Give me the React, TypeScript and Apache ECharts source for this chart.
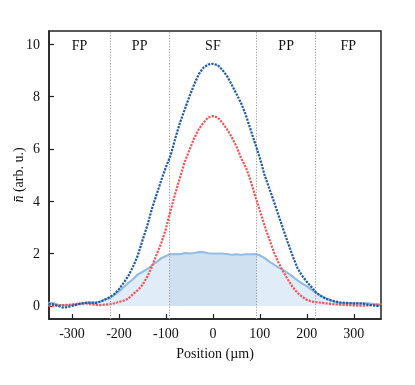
import React, { useEffect, useRef } from "react";
import * as echarts from "echarts";

const positions = [
  -350, -340, -330, -320, -310, -300, -290, -280, -270, -260, -250, -240, -230, -220, -210, -200,
  -190, -180, -170, -160, -150, -140, -130, -120, -110, -100, -90, -80, -70, -60, -50, -40, -30, -20,
  -10, 0, 10, 20, 30, 40, 50, 60, 70, 80, 90, 100, 110, 120, 130, 140, 150, 160, 170, 180, 190, 200,
  210, 220, 230, 240, 250, 260, 270, 280, 290, 300, 310, 320, 330, 340, 350, 360,
];

const blueValues = [
  0.08, 0.06, 0.0, -0.06, -0.05, 0.0, 0.05, 0.1, 0.12, 0.13, 0.11, 0.16, 0.24, 0.33, 0.45, 0.64,
  0.88, 1.15, 1.5, 1.92, 2.5, 3.05, 3.7, 4.25, 4.8, 5.3, 5.75, 6.4, 7.0, 7.5, 8.0, 8.45, 8.85, 9.1,
  9.22, 9.25, 9.2, 9.02, 8.78, 8.45, 8.1, 7.75, 7.3, 6.75, 6.2, 5.65, 5.0, 4.5, 3.98, 3.45, 2.92,
  2.4, 1.9, 1.45, 1.15, 0.92, 0.72, 0.5, 0.38, 0.28, 0.22, 0.17, 0.13, 0.12, 0.11, 0.1, 0.1, 0.09,
  0.05, 0.02, 0.0, 0.0,
];

const redValues = [
  0.0, 0.0, 0.02, 0.03, 0.04, 0.05, 0.08, 0.1, 0.1, 0.07, 0.04, 0.03, 0.05, 0.06, 0.1, 0.15, 0.2,
  0.28, 0.45, 0.6, 0.8, 1.1, 1.5, 1.95, 2.4, 2.95, 3.65, 4.3, 4.9, 5.5, 5.95, 6.4, 6.75, 7.0, 7.2,
  7.25, 7.2, 7.0, 6.75, 6.45, 6.1, 5.65, 5.3, 4.8, 4.2, 3.65, 3.07, 2.55, 2.05, 1.65, 1.3, 1.0,
  0.72, 0.5, 0.35, 0.23, 0.17, 0.14, 0.12, 0.1, 0.08, 0.06, 0.05, 0.04, 0.03, 0.02, 0.01, 0.01,
  0.02, 0.03, 0.05, 0.05,
];

const profilePositions = [
  -350, -340, -330, -320, -310, -300, -290, -280, -270, -260, -250, -240, -230, -220, -210, -200,
  -190, -180, -170, -160, -150, -140, -130, -120, -110, -100, -93, -90, -80, -70, -60, -50, -40, -30,
  -20, -10, 0, 10, 20, 30, 40, 50, 60, 70, 80, 90, 93, 100, 110, 120, 130, 140, 150, 160, 170, 180,
  190, 200, 210, 220, 230, 240, 250, 260, 270, 280, 290, 300, 310, 320, 330, 340, 350, 360,
];

const profileValues = [
  0.12, 0.1, 0.05, 0.03, 0.02, 0.05, 0.06, 0.08, 0.12, 0.12, 0.13, 0.17, 0.24, 0.3, 0.42, 0.55,
  0.72, 0.88, 1.02, 1.2, 1.3, 1.4, 1.55, 1.68, 1.82, 1.9, 1.97, 1.97, 1.98, 1.97, 2.02, 2.0, 2.02,
  2.05, 2.05, 2.01, 2.0, 2.0, 2.0, 1.98, 1.95, 1.97, 1.95, 1.97, 1.97, 1.98, 1.97, 1.93, 1.83, 1.7,
  1.58, 1.47, 1.37, 1.25, 1.12, 0.98, 0.86, 0.75, 0.62, 0.5, 0.38, 0.3, 0.22, 0.15, 0.12, 0.1, 0.1,
  0.1, 0.1, 0.1, 0.1, 0.08, 0.05, 0.05,
];

const boundaries = [-219, -93, 93, 219];
const regionEdges = [-349, -219, -93, 93, 219, 358];
const regionLabels = ["FP", "PP", "SF", "PP", "FP"];
const sfRange = [-93, 93];

const xTicks = [-300, -200, -100, 0, 100, 200, 300];
const yTicks = [0, 2, 4, 6, 8, 10];

const FONT = "Liberation Serif";

export default function App() {
  const ref = useRef<HTMLDivElement>(null);

  useEffect(() => {
    if (!ref.current) return;
    const chart = echarts.init(ref.current, null, { renderer: "svg" });

    const pair = (xs: number[], ys: number[]) => xs.map((x, i) => [x, ys[i]]);
    const profileData = pair(profilePositions, profileValues);
    const sfData = profileData.filter((d) => d[0] >= sfRange[0] && d[0] <= sfRange[1]);

    const markAreaData = regionLabels.map((name, i) => [
      { xAxis: regionEdges[i], name },
      { xAxis: regionEdges[i + 1] },
    ]);

    const option: any = {
      animation: false,
      grid: {
        left: 49,
        right: 34,
        top: 31,
        bottom: 66,
        outerBoundsMode: "none",
        containLabel: false,
        show: true,
        borderColor: "#222",
        borderWidth: 1.5,
        backgroundColor: "transparent",
      },
      xAxis: {
        type: "value",
        min: -349,
        max: 358,
        name: "Position (µm)",
        nameLocation: "middle",
        nameGap: 27,
        nameMoveOverlap: false,
        nameTextStyle: { fontFamily: FONT, fontSize: 14, color: "#111" },
        axisLine: { show: true, onZero: false, lineStyle: { color: "#222", width: 1.5 } },
        axisTick: {
          show: true,
          inside: true,
          length: 5,
          customValues: xTicks,
          lineStyle: { color: "#222", width: 1.2 },
        },
        axisLabel: {
          customValues: xTicks,
          margin: 7,
          fontFamily: FONT,
          fontSize: 14,
          color: "#111",
        },
        splitLine: { show: false },
      },
      yAxis: {
        type: "value",
        min: -0.5,
        max: 10.5,
        name: "{i|n\u0304\u0304} (arb. u.)",
        nameLocation: "middle",
        nameGap: 24,
        nameMoveOverlap: false,
        nameRotate: 90,
        nameTextStyle: {
          fontFamily: FONT,
          fontSize: 14,
          color: "#111",
          rich: { i: { fontFamily: FONT, fontStyle: "italic", fontSize: 14, color: "#111" } },
        },
        axisLine: { show: true, onZero: false, lineStyle: { color: "#222", width: 1.5 } },
        axisTick: {
          show: true,
          inside: true,
          length: 5,
          customValues: yTicks,
          lineStyle: { color: "#222", width: 1.2 },
        },
        axisLabel: {
          customValues: yTicks,
          margin: 9,
          fontFamily: FONT,
          fontSize: 14,
          color: "#111",
        },
        splitLine: { show: false },
      },
      series: [
        {
          type: "line",
          data: profileData,
          showSymbol: false,
          smooth: false,
          lineStyle: { color: "#93bbe3", width: 1.8 },
          areaStyle: { color: "#e0ecf7", opacity: 1, origin: 0 },
          z: 1,
          markLine: {
            silent: true,
            symbol: ["none", "none"],
            label: { show: false },
            lineStyle: { color: "#9a9a9a", width: 1, type: [1.2, 1.6] },
            data: boundaries.map((v) => ({ xAxis: v })),
          },
          markArea: {
            silent: true,
            itemStyle: { color: "rgba(0,0,0,0)" },
            label: {
              show: true,
              position: "insideTop",
              distance: 7,
              fontFamily: FONT,
              fontSize: 14,
              color: "#111",
            },
            data: markAreaData,
          },
        },
        {
          type: "line",
          data: sfData,
          showSymbol: false,
          lineStyle: { width: 0, opacity: 0 },
          areaStyle: { color: "#cfe1f0", opacity: 1, origin: 0 },
          z: 2,
        },
        {
          type: "line",
          data: profileData,
          showSymbol: false,
          lineStyle: { color: "#93bbe3", width: 1.8 },
          z: 3,
        },
        {
          type: "line",
          data: pair(positions, redValues),
          showSymbol: false,
          lineStyle: { color: "#f55454", width: 2.2, type: [2.2, 1.2] },
          z: 4,
        },
        {
          type: "line",
          data: pair(positions, blueValues),
          showSymbol: false,
          lineStyle: { color: "#1a5aa6", width: 2.2, type: [2.2, 1.2] },
          z: 5,
        },
      ],
    };

    chart.setOption(option);
    return () => chart.dispose();
  }, []);

  return (
    <div
      ref={ref}
      style={{ position: "fixed", left: 0, top: 0, width: 415, height: 385 }}
    />
  );
}
